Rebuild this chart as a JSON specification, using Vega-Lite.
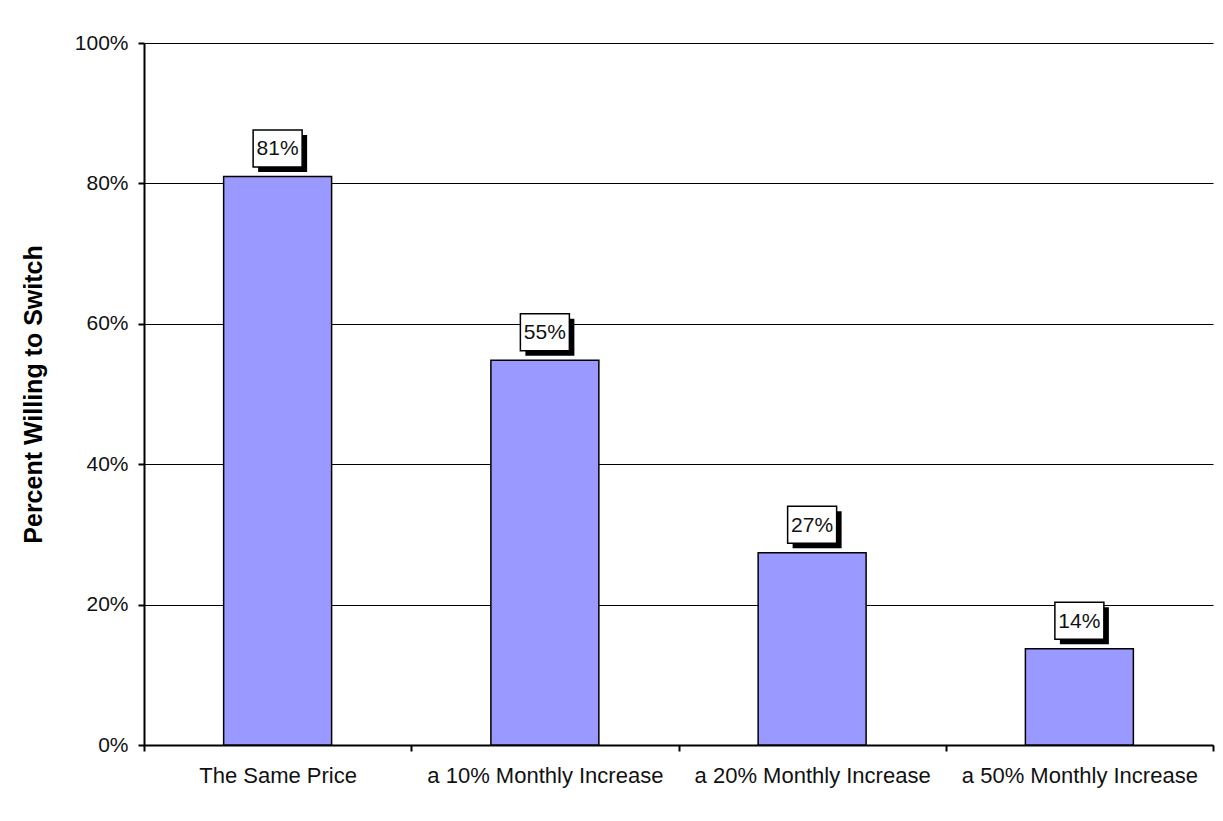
{
  "$schema": "https://vega.github.io/schema/vega-lite/v6.json",
  "autosize": "none",
  "width": 1069,
  "height": 702,
  "padding": {"left": 144, "top": 43, "right": 10, "bottom": 76},
  "background": "white",
  "config": {
    "view": {"stroke": null},
    "font": "Liberation Sans",
    "axis": {
      "labelFont": "Liberation Sans",
      "labelFontSize": 21,
      "labelColor": "#111111",
      "labelLimit": 0,
      "domainColor": "black",
      "domainWidth": 2,
      "tickColor": "black",
      "tickWidth": 2,
      "tickSize": 6
    }
  },
  "data": {
    "values": [
      {"condition": "The Same Price", "pct": 0.81},
      {"condition": "a 10% Monthly Increase", "pct": 0.548},
      {"condition": "a 20% Monthly Increase", "pct": 0.274},
      {"condition": "a 50% Monthly Increase", "pct": 0.137}
    ]
  },
  "encoding": {
    "x": {
      "field": "condition",
      "type": "nominal",
      "sort": null,
      "scale": {"paddingInner": 0, "paddingOuter": 0},
      "axis": {
        "title": null,
        "labelAngle": 0,
        "labelFontSize": 22,
        "labelPadding": 14,
        "tickBand": "extent",
        "grid": false
      }
    },
    "y": {
      "field": "pct",
      "type": "quantitative",
      "scale": {"domain": [0, 1], "nice": false},
      "axis": {
        "values": [0, 0.2, 0.4, 0.6, 0.8, 1],
        "format": ".0%",
        "title": "Percent Willing to Switch",
        "titleFont": "Liberation Sans",
        "titleFontSize": 25,
        "titleFontWeight": "bold",
        "titleColor": "black",
        "titleAngle": -90,
        "titleAlign": "center",
        "titleBaseline": "middle",
        "titleX": -111,
        "titleY": 351,
        "labelPadding": 10,
        "grid": true,
        "gridColor": "black",
        "gridWidth": 1,
        "gridOpacity": 1
      }
    }
  },
  "layer": [
    {
      "mark": {"type": "bar", "color": "#9999FF", "stroke": "black", "strokeWidth": 1.5, "width": {"band": 0.404}}
    },
    {
      "mark": {
        "type": "point",
        "shape": "M-1,-0.755H1V0.755H-1Z",
        "size": 2401,
        "filled": true,
        "fill": "black",
        "stroke": "black",
        "strokeWidth": 0,
        "opacity": 1,
        "xOffset": 5,
        "yOffset": -23
      }
    },
    {
      "mark": {
        "type": "point",
        "shape": "M-1,-0.755H1V0.755H-1Z",
        "size": 2401,
        "filled": true,
        "fill": "white",
        "stroke": "black",
        "strokeWidth": 1.5,
        "opacity": 1,
        "yOffset": -28
      }
    },
    {
      "mark": {
        "type": "text",
        "font": "Liberation Sans",
        "fontSize": 21,
        "color": "#111111",
        "baseline": "middle",
        "align": "center",
        "yOffset": -27
      },
      "encoding": {
        "text": {"field": "pct", "type": "quantitative", "format": ".0%"}
      }
    }
  ]
}
